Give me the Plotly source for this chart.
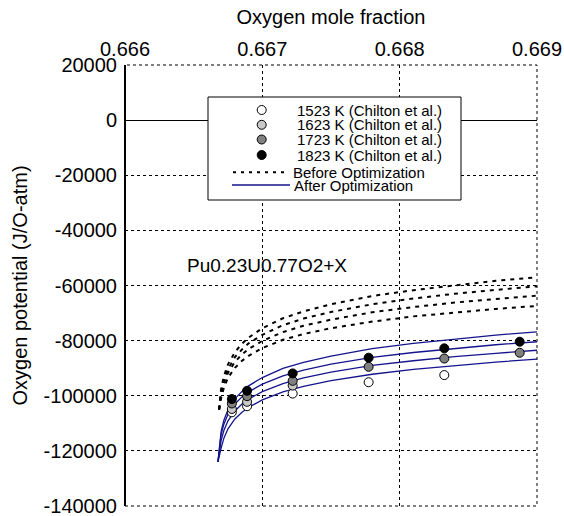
import plotly.graph_objects as go

# ---------------- data ----------------
x_ticks = [0.666, 0.667, 0.668, 0.669]
x_tick_text = ["0.666", "0.667", "0.668", "0.669"]
y_ticks = [20000, 0, -20000, -40000, -60000, -80000, -100000, -120000, -140000]
y_tick_text = ["20000", "0", "-20000", "-40000", "-60000", "-80000", "-100000", "-120000", "-140000"]

# measured points (Chilton et al.)
pts_x = [0.666778, 0.666889, 0.667221, 0.667774, 0.668325, 0.668874]
pts_1523 = [-106000, -103800, -99200, -95100, -92500]
pts_1623 = [-104800, -102200, -96300]
pts_1723 = [-102800, -100150, -94600, -89500, -86500, -84400]
pts_1823 = [-101200, -98200, -91900, -86200, -82800, -80400]

# Before optimization (dotted)
before_x = [0.666685, 0.6667, 0.66672, 0.66675, 0.6668, 0.66685, 0.6669, 0.667,
            0.66715, 0.6673, 0.6675, 0.6678, 0.6681, 0.6684, 0.6687, 0.669]
before_1 = [-105000, -97400, -92900, -88600, -84200, -81200, -78900, -75500,
            -71900, -69400, -66800, -63800, -61700, -59900, -58300, -57000]
before_2 = [-105000, -98600, -94300, -90300, -86000, -83300, -81000, -77900,
            -74400, -72000, -69600, -66800, -64700, -63000, -61600, -60300]
before_3 = [-105000, -99400, -95500, -91700, -87700, -85100, -83000, -80100,
            -76900, -74600, -72400, -69700, -67800, -66200, -64900, -63700]
before_4 = [-105000, -100800, -97100, -93500, -89900, -87400, -85500, -82700,
            -79700, -77600, -75500, -73100, -71200, -69800, -68500, -67400]

# After optimization (blue)
after_x = [0.666677, 0.66669, 0.6667, 0.66672, 0.66675, 0.6668, 0.66685, 0.6669, 0.667,
           0.66715, 0.6673, 0.6675, 0.6678, 0.6681, 0.6684, 0.6687, 0.669]
after_1 = [-124000, -116000, -112900, -108900, -105100, -101100, -98500, -96400, -93400,
           -90100, -87900, -85600, -82900, -81000, -79400, -78000, -76800]
after_2 = [-124000, -116800, -114000, -110300, -106700, -103000, -100500, -98600, -95800,
           -92800, -90700, -88500, -86100, -84300, -82800, -81500, -80400]
after_3 = [-124000, -119000, -116200, -112600, -109100, -105500, -103100, -101200, -98500,
           -95600, -93500, -91400, -89000, -87300, -85800, -84600, -83500]
after_4 = [-124000, -121700, -119000, -115400, -112000, -108400, -106100, -104200, -101500,
           -98600, -96600, -94500, -92200, -90400, -89000, -87800, -86700]

legend_labels = ["1523 K (Chilton et al.)", "1623 K (Chilton et al.)",
                 "1723 K (Chilton et al.)", "1823 K (Chilton et al.)",
                 "Before Optimization", "After Optimization"]
marker_colors = ["#ffffff", "#c8c8c8", "#808080", "#000000"]
BLUE = "#14148c"
FONT = "Liberation Sans, Arial, sans-serif"
DOTS = "4px,5px"

fig = go.Figure()

for ys in [before_1, before_2, before_3, before_4]:
    fig.add_trace(go.Scatter(x=before_x, y=ys, mode="lines", showlegend=False,
                             line=dict(color="black", width=2, dash=DOTS)))
for ys in [after_1, after_2, after_3, after_4]:
    fig.add_trace(go.Scatter(x=after_x, y=ys, mode="lines", showlegend=False,
                             line=dict(color=BLUE, width=1.3)))

for ys, col, name in zip([pts_1523, pts_1623, pts_1723, pts_1823], marker_colors, legend_labels[:4]):
    fig.add_trace(go.Scatter(x=pts_x[:len(ys)], y=ys, mode="markers", name=name, showlegend=False,
                             marker=dict(size=9, color=col, line=dict(color="black", width=1))))

# ---------- layout geometry (pixels) ----------
W, H = 564, 516
L, R, T, B = 125, 537, 65, 506


def px(xp):
    return (xp - L) / (R - L)


def py(yp):
    return (B - yp) / (B - T)


shapes = []
# dotted frame
shapes.append(dict(type="rect", xref="paper", yref="paper", x0=0, x1=1, y0=0, y1=1,
                   line=dict(color="black", width=1, dash="dot"), layer="below"))
# solid left axis
shapes.append(dict(type="line", xref="paper", yref="paper", x0=0, x1=0, y0=0, y1=1,
                   line=dict(color="black", width=2), layer="above"))
# legend box
shapes.append(dict(type="rect", xref="paper", yref="paper", x0=px(208), x1=px(461),
                   y0=py(200), y1=py(97), fillcolor="white",
                   line=dict(color="black", width=1), layer="above"))
row_y = [110, 124.8, 139.5, 155, 172.3, 185]
for i in range(4):
    shapes.append(dict(type="circle", xref="paper", yref="paper",
                       xsizemode="pixel", ysizemode="pixel",
                       xanchor=px(261.7), yanchor=py(row_y[i]),
                       x0=-4.5, x1=4.5, y0=-4.5, y1=4.5,
                       fillcolor=marker_colors[i], line=dict(color="black", width=1),
                       layer="above"))
shapes.append(dict(type="line", xref="paper", yref="paper", x0=px(233), x1=px(289),
                   y0=py(row_y[4]), y1=py(row_y[4]),
                   line=dict(color="black", width=2, dash="3px,5px"), layer="above"))
shapes.append(dict(type="line", xref="paper", yref="paper", x0=px(232), x1=px(290),
                   y0=py(row_y[5]), y1=py(row_y[5]),
                   line=dict(color=BLUE, width=1.3), layer="above"))

annotations = []
text_x = [295, 295, 295, 295, 290.5, 291.5]
for i, lab in enumerate(legend_labels):
    annotations.append(dict(text=lab, xref="paper", yref="paper", x=px(text_x[i]), y=py(row_y[i]),
                            xanchor="left", yanchor="middle", showarrow=False,
                            font=dict(family=FONT, size=15, color="black")))
annotations.append(dict(text="Pu0.23U0.77O2+X", xref="paper", yref="paper",
                        x=px(266.7), y=py(265), xanchor="center", yanchor="middle",
                        showarrow=False, font=dict(family=FONT, size=19, color="black")))

fig.update_layout(
    width=W, height=H,
    margin=dict(l=L, r=W - R, t=T, b=H - B, pad=0, autoexpand=False),
    paper_bgcolor="white", plot_bgcolor="white",
    font=dict(family=FONT, size=20, color="black"),
    showlegend=False,
    shapes=shapes, annotations=annotations,
    xaxis=dict(side="top", range=[0.666, 0.669], tickvals=x_ticks, ticktext=x_tick_text,
               showgrid=True, gridcolor="black", griddash="dot", gridwidth=1,
               showline=False, zeroline=False, ticks="", ticklabelstandoff=4,
               automargin=False, ticklabeloverflow="allow",
               title=dict(text="Oxygen mole fraction", font=dict(size=20), standoff=8),
               tickfont=dict(size=20)),
    yaxis=dict(range=[-140000, 20000], tickvals=y_ticks, ticktext=y_tick_text,
               showgrid=True, gridcolor="black", griddash="dot", gridwidth=1,
               showline=False,
               zeroline=True, zerolinecolor="black", zerolinewidth=1,
               ticks="", ticklabelstandoff=7,
               automargin=False, ticklabeloverflow="allow",
               title=dict(text="Oxygen potential (J/O-atm)", font=dict(size=20), standoff=10),
               tickfont=dict(size=20)),
)

fig.write_html("out.html")
